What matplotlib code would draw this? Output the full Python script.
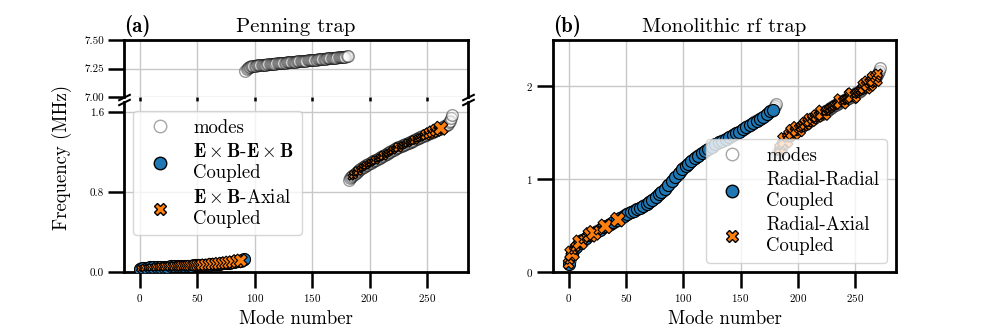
import matplotlib
matplotlib.use('Agg')
import matplotlib.pyplot as plt
from matplotlib.lines import Line2D
import numpy as np

plt.rcParams['font.family'] = 'cmr10'
plt.rcParams['mathtext.fontset'] = 'cm'
plt.rcParams['axes.formatter.use_mathtext'] = True

# ---------------- Penning trap (a) ----------------
pen_modes_low = [
    0.035, 0.037, 0.039, 0.040, 0.041, 0.042, 0.043, 0.044, 0.045, 0.046,
    0.047, 0.047, 0.048, 0.049, 0.049, 0.050, 0.051, 0.051, 0.052, 0.052,
    0.053, 0.053, 0.054, 0.054, 0.055, 0.055, 0.056, 0.056, 0.057, 0.057,
    0.058, 0.058, 0.059, 0.059, 0.060, 0.060, 0.061, 0.061, 0.062, 0.062,
    0.063, 0.063, 0.064, 0.064, 0.065, 0.065, 0.066, 0.066, 0.067, 0.067,
    0.068, 0.069, 0.069, 0.070, 0.071, 0.071, 0.072, 0.073, 0.074, 0.074,
    0.075, 0.076, 0.077, 0.078, 0.079, 0.080, 0.081, 0.082, 0.083, 0.084,
    0.085, 0.086, 0.087, 0.088, 0.090, 0.091, 0.092, 0.094, 0.095, 0.097,
    0.098, 0.100, 0.102, 0.104, 0.106, 0.108, 0.110, 0.112, 0.115, 0.118,
    0.122, 0.128]
pen_modes_high = [
    7.230, 7.245, 7.255, 7.262, 7.267, 7.270, 7.272, 7.274, 7.275,
    7.276, 7.277, 7.278, 7.279, 7.280, 7.281, 7.282, 7.283, 7.284, 7.285,
    7.286, 7.287, 7.288, 7.289, 7.290, 7.291, 7.292, 7.293, 7.294, 7.295,
    7.296, 7.297, 7.298, 7.299, 7.300, 7.301, 7.302, 7.303, 7.304, 7.305,
    7.306, 7.307, 7.308, 7.309, 7.310, 7.311, 7.312, 7.313, 7.314, 7.315,
    7.316, 7.317, 7.318, 7.319, 7.320, 7.321, 7.322, 7.323, 7.324, 7.325,
    7.326, 7.327, 7.328, 7.329, 7.330, 7.331, 7.332, 7.333, 7.334, 7.335,
    7.336, 7.337, 7.338, 7.339, 7.340, 7.341, 7.342, 7.343, 7.344, 7.345,
    7.346, 7.347, 7.348, 7.349, 7.350, 7.351, 7.352, 7.353, 7.354, 7.356,
    7.360]
pen_modes_mid = [
    0.920, 0.936, 0.950, 0.962, 0.973, 0.983, 0.993, 1.002, 1.011, 1.020,
    1.029, 1.038, 1.047, 1.054, 1.060, 1.067, 1.073, 1.080, 1.086, 1.093,
    1.099, 1.106, 1.112, 1.119, 1.125, 1.132, 1.138, 1.145, 1.151, 1.158,
    1.164, 1.171, 1.178, 1.184, 1.191, 1.197, 1.204, 1.210, 1.217, 1.223,
    1.230, 1.236, 1.243, 1.248, 1.253, 1.259, 1.264, 1.269, 1.274, 1.279,
    1.284, 1.290, 1.295, 1.300, 1.305, 1.310, 1.315, 1.321, 1.326, 1.331,
    1.336, 1.341, 1.346, 1.352, 1.357, 1.362, 1.367, 1.372, 1.377, 1.383,
    1.388, 1.393, 1.398, 1.403, 1.408, 1.413, 1.418, 1.423, 1.428, 1.433,
    1.438, 1.444, 1.450, 1.457, 1.465, 1.474, 1.485, 1.498, 1.515, 1.538,
    1.567]
pen_freq = pen_modes_low + pen_modes_high + pen_modes_mid
pen_idx = list(range(len(pen_freq)))

# E x B - E x B coupled (low branch)
pen_exb_idx = [0, 3, 6, 9, 12, 15, 18, 21, 24, 27, 30, 33, 36, 39, 42, 45, 48,
               51, 54, 57, 60, 63, 66, 69, 72, 75, 78, 81, 84, 87, 89, 91]
# E x B - axial coupled modes and marker sizes
pen_ax_idx = [0, 2, 4, 6, 8, 10, 12, 14, 16, 18, 20, 22, 24, 26, 28, 30, 32, 34,
              36, 38, 40, 42, 44, 46, 48, 50, 52, 54, 57, 60, 63, 66, 69, 72,
              75, 78, 81, 85, 88,
              184, 185, 186, 187, 188, 189, 190, 191, 192, 193, 194, 195, 196,
              197, 198, 199, 200, 201, 202, 203, 204, 205, 206, 207, 208, 209,
              210, 211, 212, 213, 214, 215, 216, 217, 218, 219, 220, 221, 222,
              223, 224, 225, 226, 227, 228, 229, 230, 231, 232, 233, 234, 235,
              236, 237, 238, 239, 240, 241, 242, 243, 244, 245, 246, 247, 248,
              249, 250, 251, 252, 253, 254, 255, 256, 257, 258, 259, 260, 261,
              262]
pen_ax_size = [20, 15, 25, 15, 20, 25, 20, 30, 25, 30, 25, 35, 30, 35, 30, 40, 35,
               40, 45, 40, 45, 50, 55, 50, 60, 60, 55, 65, 70, 65, 75, 70, 80,
               75, 80, 85, 80, 90, 85,
               20, 15, 35, 15, 20, 15, 40, 15, 20, 15, 25, 15, 20, 30, 15, 20,
               15, 25, 15, 20, 15, 35, 15, 20, 15, 25, 15, 20, 40, 15, 20, 15,
               25, 15, 20, 15, 30, 15, 20, 15, 25, 45, 15, 20, 15, 25, 15, 20,
               15, 30, 15, 20, 15, 25, 15, 40, 15, 20, 25, 15, 30, 20, 15, 25,
               20, 55, 20, 25, 60, 20, 30, 70, 25, 30, 75, 30, 40, 50, 100]

# ---------------- Monolithic rf trap (b) ----------------
rf_modes_low = [
    0.09, 0.13, 0.17, 0.20, 0.23, 0.25, 0.27, 0.28, 0.30, 0.31,
    0.32, 0.33, 0.34, 0.35, 0.36, 0.37, 0.38, 0.39, 0.395, 0.40,
    0.41, 0.416, 0.422, 0.428, 0.434, 0.44, 0.448, 0.456, 0.464, 0.472,
    0.48, 0.486, 0.492, 0.498, 0.504, 0.51, 0.516, 0.522, 0.528, 0.534,
    0.54, 0.548, 0.556, 0.564, 0.572, 0.58, 0.588, 0.596, 0.604, 0.612,
    0.62, 0.626, 0.632, 0.638, 0.644, 0.65, 0.656, 0.662, 0.668, 0.674,
    0.68, 0.686, 0.692, 0.698, 0.704, 0.71, 0.718, 0.726, 0.734, 0.742,
    0.75, 0.76, 0.77, 0.78, 0.79, 0.80, 0.81, 0.82, 0.83, 0.84,
    0.85, 0.862, 0.874, 0.886, 0.898, 0.91, 0.924, 0.938, 0.952, 0.966,
    0.98, 0.994, 1.008, 1.022, 1.036, 1.05, 1.064, 1.078, 1.092, 1.106,
    1.12, 1.132, 1.144, 1.156, 1.168, 1.18, 1.19, 1.20, 1.21, 1.22,
    1.23, 1.238, 1.246, 1.254, 1.262, 1.27, 1.278, 1.286, 1.294, 1.302,
    1.31, 1.318, 1.326, 1.334, 1.342, 1.35, 1.358, 1.366, 1.374, 1.382,
    1.39, 1.396, 1.402, 1.408, 1.414, 1.42, 1.426, 1.432, 1.438, 1.444,
    1.45, 1.458, 1.466, 1.474, 1.482, 1.49, 1.496, 1.502, 1.508, 1.514,
    1.52, 1.528, 1.536, 1.544, 1.552, 1.56, 1.568, 1.576, 1.584, 1.592,
    1.60, 1.608, 1.616, 1.624, 1.632, 1.64, 1.646, 1.652, 1.658, 1.664,
    1.67, 1.68, 1.69, 1.70, 1.71, 1.72, 1.73, 1.74, 1.75, 1.77,
    1.79, 1.81]
rf_modes_high = [
    1.26, 1.29, 1.31, 1.33, 1.355, 1.38, 1.40, 1.42, 1.44, 1.452,
    1.464, 1.476, 1.488, 1.50, 1.508, 1.516, 1.524, 1.532, 1.54, 1.548,
    1.556, 1.564, 1.572, 1.58, 1.59, 1.60, 1.61, 1.62, 1.63, 1.638,
    1.646, 1.654, 1.662, 1.67, 1.676, 1.682, 1.688, 1.694, 1.70, 1.708,
    1.716, 1.724, 1.732, 1.74, 1.748, 1.756, 1.764, 1.772, 1.78, 1.788,
    1.796, 1.804, 1.812, 1.82, 1.826, 1.832, 1.838, 1.844, 1.85, 1.856,
    1.862, 1.868, 1.874, 1.88, 1.888, 1.896, 1.904, 1.912, 1.92, 1.928,
    1.936, 1.944, 1.952, 1.96, 1.97, 1.98, 1.99, 2.00, 2.01, 2.02,
    2.03, 2.04, 2.05, 2.06, 2.07, 2.08, 2.10, 2.12, 2.14, 2.17,
    2.20]
rf_freq = rf_modes_low + rf_modes_high
rf_idx = list(range(len(rf_freq)))

# radial-radial coupled modes
rf_rad_idx = [0, 3, 6, 9, 12, 15, 18, 21, 24, 27, 30, 33, 36, 39, 42, 45, 48,
              51, 54, 57, 60, 62, 65, 68, 70, 73, 76, 79, 81, 84, 87, 90, 93,
              96, 99, 102, 104, 107, 110, 113, 116, 119, 122, 125, 128, 131,
              134, 137, 140, 143, 146, 149, 152, 155, 158, 161, 164, 167, 170,
              173, 176, 178]
rf_ax_idx = [0, 1, 2, 3, 4, 6, 8, 10, 13, 15, 17, 19, 22, 26, 32, 43,
             183, 184, 185, 186, 187, 188, 189, 190, 191, 192, 193, 194, 195,
             196, 197, 198, 199, 200, 201, 202, 203, 204, 205, 206, 207, 208,
             209, 210, 211, 212, 213, 214, 215, 216, 217, 218, 219, 220, 221,
             222, 223, 224, 225, 226, 227, 228, 229, 230, 231, 232, 233, 234,
             235, 236, 237, 238, 239, 240, 241, 242, 243, 244, 245, 246, 247,
             248, 249, 250, 251, 252, 253, 254, 255, 256, 257, 258, 259, 260,
             261, 262, 263, 264, 265, 266, 267, 268, 269, 270]
rf_ax_size = [60, 40, 50, 110, 30, 45, 35, 110, 40, 30, 45, 110, 110, 40, 110, 110,
              30, 50, 80, 35, 60, 40, 120, 30, 50, 35, 80, 40, 55,
              120, 40, 50, 35, 120, 45, 35, 50, 30, 60, 40, 80, 35,
              55, 40, 90, 35, 60, 30, 45, 35, 80, 40, 35, 50, 40,
              120, 30, 35, 45, 30, 35, 40, 30, 35, 30, 40, 30, 35,
              30, 40, 30, 120, 35, 30, 40, 30, 35, 30, 40, 35, 120,
              120, 35, 30, 40, 30, 35, 30, 40, 35, 55, 40, 120, 60,
              50, 120, 60, 50, 70, 55, 120, 60, 50, 40]

mode_edge = 'k'
rad_color = '#1f77b4'
ax_color = '#ff7f0e'

fig = plt.figure(figsize=(9.97, 3.32), dpi=100)
ax_top = fig.add_axes([0.1244, 0.7078, 0.3450, 0.1717])
ax_bot = fig.add_axes([0.1244, 0.1807, 0.3450, 0.5120])
ax_r = fig.add_axes([0.5547, 0.1807, 0.3440, 0.6988])


def draw_panel(ax, idx, freq, c_idx, c_freq, ax_idx, ax_freq, ax_size):
    ax.scatter(idx, freq, s=70, facecolor='white', edgecolor=mode_edge,
               alpha=0.4, linewidths=1.0, zorder=2)
    ax.scatter(c_idx, c_freq, s=75, facecolor=rad_color, edgecolor='k',
               linewidths=0.8, zorder=3)
    ax.scatter(ax_idx, ax_freq, s=ax_size, marker='X', facecolor=ax_color,
               edgecolor='k', linewidths=0.8, zorder=4)


pen_exb_freq = [pen_freq[i] for i in pen_exb_idx]
pen_ax_freq = [pen_freq[i] for i in pen_ax_idx]
for a in (ax_top, ax_bot):
    draw_panel(a, pen_idx, pen_freq, pen_exb_idx, pen_exb_freq,
               pen_ax_idx, pen_ax_freq, pen_ax_size)

rf_rad_freq = [rf_freq[i] for i in rf_rad_idx]
rf_ax_freq = [rf_freq[i] for i in rf_ax_idx]
draw_panel(ax_r, rf_idx, rf_freq, rf_rad_idx, rf_rad_freq,
           rf_ax_idx, rf_ax_freq, rf_ax_size)

for a in (ax_top, ax_bot, ax_r):
    a.set_xlim(-13.6, 285.6)
    a.set_xticks([0, 50, 100, 150, 200, 250])
    a.grid(True, color='#c8c8c8', lw=1.0, zorder=0)
    a.set_axisbelow(True)
    for sp in a.spines.values():
        sp.set_linewidth(2.0)
    a.tick_params(axis='both', length=11.5, width=1.8, labelsize=8, pad=3)

ax_top.set_ylim(7.0, 7.5)
ax_top.set_yticks([7.0, 7.25, 7.5])
ax_top.set_yticklabels(['7.00', '7.25', '7.50'])
ax_top.spines['bottom'].set_visible(False)
ax_top.tick_params(axis='x', length=3, labelbottom=False)

ax_bot.set_ylim(0, 1.7)
ax_bot.set_yticks([0.0, 0.8, 1.6])
ax_bot.set_yticklabels(['0.0', '0.8', '1.6'])
ax_bot.spines['top'].set_visible(False)

ax_r.set_ylim(0, 2.5)
ax_r.set_yticks([0, 1, 2])

# axis break marks
kw = dict(marker=[(-1, -0.5), (1, 0.5)], markersize=9, linestyle='none',
          color='k', mec='k', mew=1.5, clip_on=False, zorder=10)
ax_top.plot([0, 1], [0, 0], transform=ax_top.transAxes, **kw)
ax_bot.plot([0, 1], [1, 1], transform=ax_bot.transAxes, **kw)

ax_top.set_title('Penning trap', fontsize=15)
ax_top.set_title('(a)', loc='left', fontsize=15, fontfamily='cmb10')
ax_r.set_title('Monolithic rf trap', fontsize=15)
ax_r.set_title('(b)', loc='left', fontsize=15, fontfamily='cmb10')

ax_bot.set_xlabel('Mode number', fontsize=13.5)
ax_r.set_xlabel('Mode number', fontsize=13.5)
fig.text(0.062, 0.527, 'Frequency (MHz)', rotation=90, ha='center',
         va='center', fontsize=13.5)


def legend_handles():
    h1 = Line2D([], [], marker='o', ls='none', mfc='white', mec=mode_edge,
                alpha=0.35, ms=9, mew=1.0)
    h2 = Line2D([], [], marker='o', ls='none', mfc=rad_color, mec='k',
                ms=9, mew=1.0)
    h3 = Line2D([], [], marker='X', ls='none', mfc=ax_color, mec='k',
                ms=9, mew=1.0)
    return [h1, h2, h3]


ax_bot.legend(legend_handles(),
              ['modes',
               r'$\mathbf{E}\times\mathbf{B}$-$\mathbf{E}\times\mathbf{B}$' + '\nCoupled',
               r'$\mathbf{E}\times\mathbf{B}$-Axial' + '\nCoupled'],
              loc='upper left', fontsize=13.5, labelspacing=0.35)
ax_r.legend(legend_handles(),
            ['modes', 'Radial-Radial\nCoupled', 'Radial-Axial\nCoupled'],
            loc='lower right', fontsize=13.5, labelspacing=0.35)

fig.savefig('out.png', dpi=100)
